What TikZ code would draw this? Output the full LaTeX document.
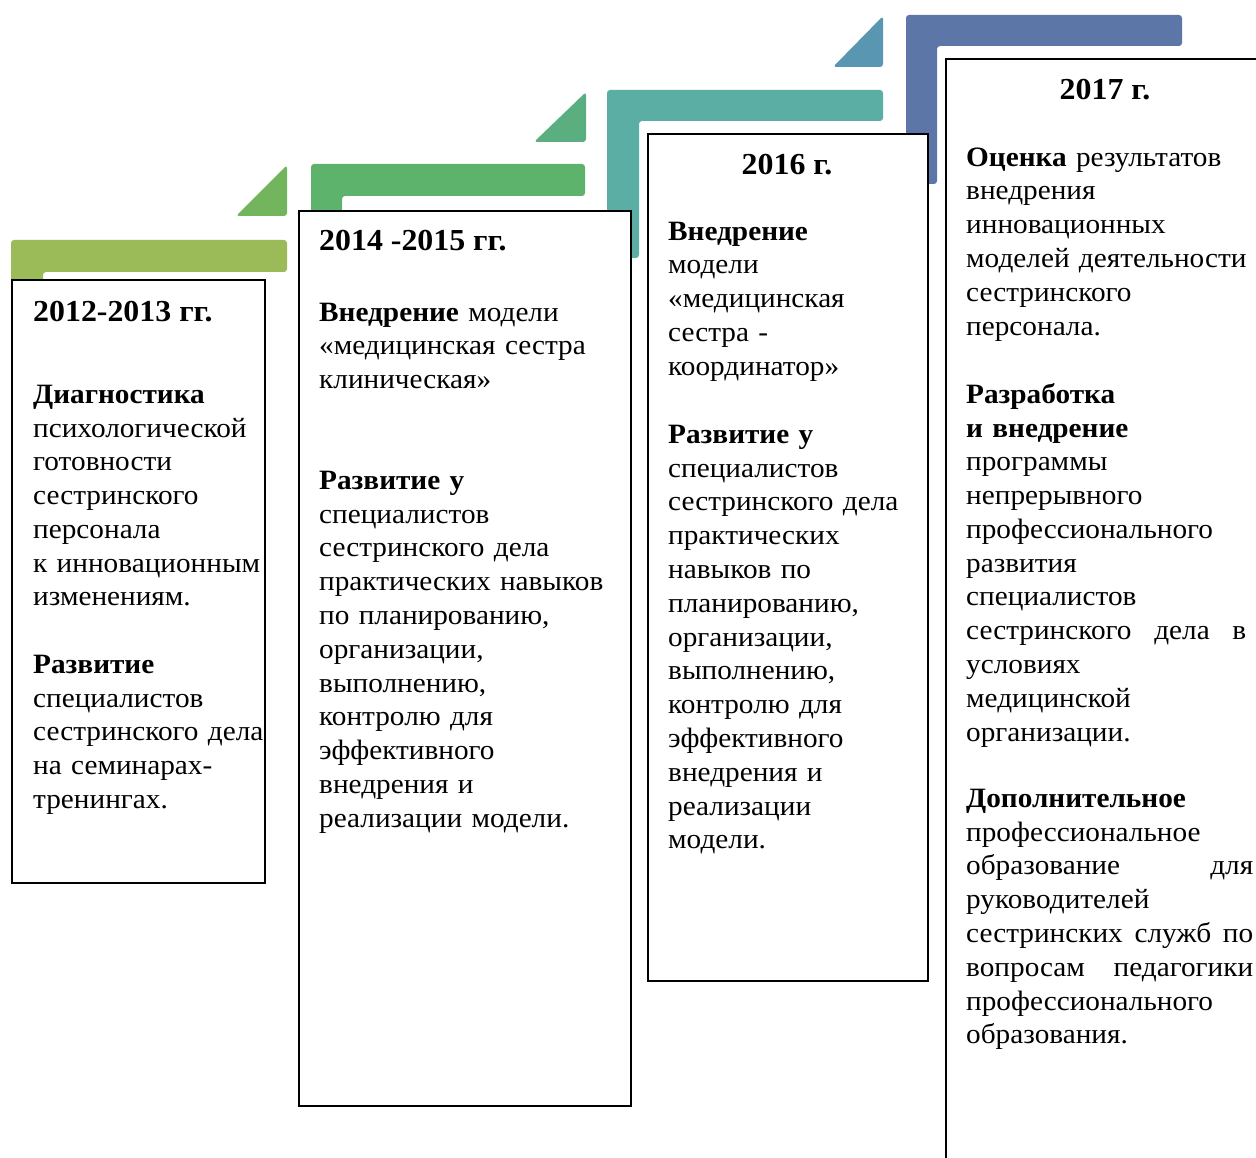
\documentclass[tikz,border=0pt]{standalone}
\usepackage{fontspec}
\setmainfont[FakeStretch=1.045]{Liberation Serif}
\definecolor{barA}{HTML}{9BBB59}
\definecolor{triA}{HTML}{72B55C}
\definecolor{barB}{HTML}{5DB36B}
\definecolor{triB}{HTML}{5BAE7F}
\definecolor{barC}{HTML}{5BAEA3}
\definecolor{triC}{HTML}{5996B2}
\definecolor{barD}{HTML}{5C76A8}
\newcommand{\fs}{\rule{0pt}{24pt}}
\newcommand{\jline}[1]{\leavevmode\hbox to 287pt{#1}}
\tikzset{
  box/.style={draw=black, line width=1.6pt, fill=white, anchor=north west, inner sep=0pt},
  para/.style={anchor=north west, inner sep=0pt, text width=300pt, align=left, font=\fontsize{28}{33.8}\selectfont},
  ttl/.style={inner sep=0pt, font=\fontsize{30.5}{36}\selectfont\bfseries},
  stepshape/.style={rounded corners=3pt},
}
\begin{document}
\begin{tikzpicture}[x=1pt,y=-1pt]
\useasboundingbox (0,0) rectangle (1256,1158);
\clip (0,0) rectangle (1256,1158);
% step shapes
\fill[barA, stepshape] (11,300) -- (11,240) -- (287,240) -- (287,272) -- (43,272) -- (43,300) -- cycle;
\fill[triA, stepshape] (236,216) -- (287,165) -- (287,216) -- cycle;
\fill[barB, stepshape] (311,230) -- (311,164) -- (585,164) -- (585,196) -- (342,196) -- (342,230) -- cycle;
\fill[triB, stepshape] (534,142) -- (586,92) -- (586,142) -- cycle;
\fill[barC, stepshape] (607,258) -- (607,90) -- (883,90) -- (883,121) -- (639,121) -- (639,258) -- cycle;
\fill[triC, stepshape] (833,67) -- (883,16) -- (883,67) -- cycle;
\fill[barD, stepshape] (906,184) -- (906,15) -- (1182,15) -- (1182,46) -- (937,46) -- (937,184) -- cycle;
% boxes
\node[box, minimum width=253pt, minimum height=603pt] (b1) at (11,279) {};
\node[box, minimum width=332pt, minimum height=895pt] (b2) at (298,210) {};
\node[box, minimum width=280pt, minimum height=847pt] (b3) at (647,133) {};
\node[box, minimum width=355pt, minimum height=1142pt] (b4) at (945,58) {};
% titles
\node[ttl, anchor=base west] (t1) at (33,322) {2012-2013 гг.};
\node[ttl, anchor=base west] (t2) at (319,251) {2014 -2015 гг.};
\node[ttl, anchor=base] (t3) at (787,175) {2016 г.};
\node[ttl, anchor=base] (t4) at (1105,100) {2017 г.};
% box 1
\node[para] (p11) at (33,379) {\fs\textbf{Диагностика}\\психологической\\готовности\\сестринского\\персонала\\к инновационным\\изменениям.};
\node[para] (p12) at (33,649) {\fs\textbf{Развитие}\\специалистов\\сестринского дела\\на семинарах-\\тренингах.};
% box 2
\node[para] (p21) at (319,297) {\fs\textbf{Внедрение} модели\\«медицинская сестра\\клиническая»};
\node[para] (p22) at (319,465) {\fs\textbf{Развитие у}\\специалистов\\сестринского дела\\практических навыков\\по планированию,\\организации,\\выполнению,\\контролю для\\эффективного\\внедрения и\\реализации модели.};
% box 3
\node[para] (p31) at (668,216) {\fs\textbf{Внедрение}\\модели\\«медицинская\\сестра -\\координатор»};
\node[para] (p32) at (668,419) {\fs\textbf{Развитие у}\\специалистов\\сестринского дела\\практических\\навыков по\\планированию,\\организации,\\выполнению,\\контролю для\\эффективного\\внедрения и\\реализации\\модели.};
% box 4
\node[para] (p41) at (966,142) {\fs\textbf{Оценка} результатов\\внедрения\\инновационных\\моделей деятельности\\сестринского\\персонала.};
\node[para] (p42) at (966,379) {\fs\textbf{Разработка}\\\textbf{и внедрение}\\программы\\непрерывного\\профессионального\\развития\\специалистов\\\jline{сестринского\hfill дела\hfill в\hspace{7pt}}\\условиях\\медицинской\\организации.};
\node[para] (p43) at (966,783) {\fs\textbf{Дополнительное}\\профессиональное\\\jline{образование\hfill для}\\руководителей\\\jline{сестринских\hfill служб\hfill по}\\\jline{вопросам\hfill педагогики}\\профессионального\\образования.};
\end{tikzpicture}
\end{document}
